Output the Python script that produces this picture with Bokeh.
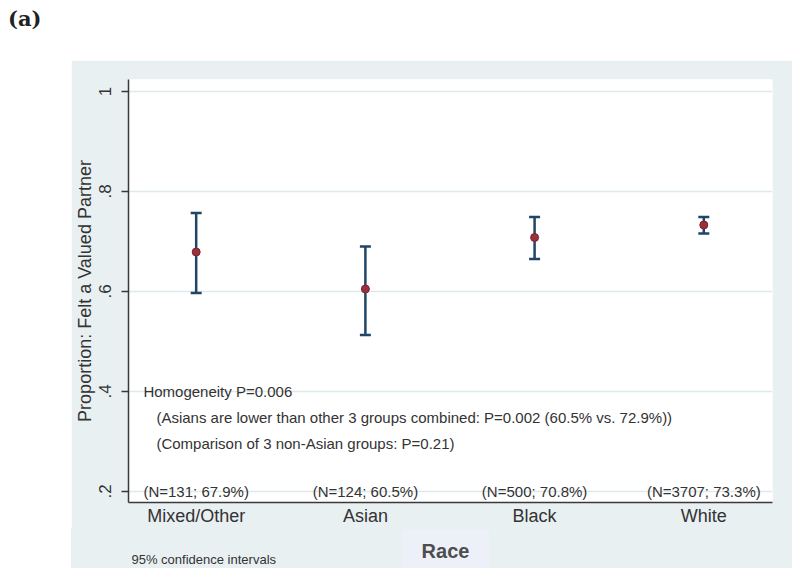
from bokeh.plotting import figure
from bokeh.models import (Range1d, FixedTicker, Whisker, TeeHead, ColumnDataSource,
                          Div, Spacer)
from bokeh.layouts import column, row
from bokeh.core.properties import value
from bokeh.embed import file_html
from bokeh.resources import INLINE

# ---------------- data ----------------
categories = ["Mixed/Other", "Asian", "Black", "White"]
positions = [1, 2, 3, 4]
proportion = [0.679, 0.605, 0.708, 0.733]
ci_lower = [0.597, 0.513, 0.665, 0.716]
ci_upper = [0.757, 0.690, 0.749, 0.749]
n_labels = ["(N=131; 67.9%)", "(N=124; 60.5%)", "(N=500; 70.8%)", "(N=3707; 73.3%)"]
y_ticks = [0.2, 0.4, 0.6, 0.8, 1.0]
y_tick_labels = [".2", ".4", ".6", ".8", "1"]
notes = ["Homogeneity P=0.006",
         "(Asians are lower than other 3 groups combined: P=0.002 (60.5% vs. 72.9%))",
         "(Comparison of 3 non-Asian groups: P=0.21)"]
y_title = "Proportion: Felt a Valued Partner"
x_title = "Race"
caption = "95% confidence intervals"
panel_label = "(a)"

# ---------------- styles ----------------
FONT = "Liberation Sans"
PANEL = "#e9f0f2"
GRID = "#dfe9ec"
NAVY = "#1f4668"
MAROON = "#9b2f3c"
AXIS = "#3a3a3a"
TXT = "#333333"

# layout positions (data units of the main plot)
notes_x = [0.688, 0.765, 0.765]
notes_y = [0.40, 0.348, 0.296]
n_label_y = 0.2

src = ColumnDataSource(dict(x=positions, p=proportion, lo=ci_lower, hi=ci_upper, n=n_labels))
notes_src = ColumnDataSource(dict(x=notes_x, y=notes_y, t=notes))

W = 721
p = figure(width=W, height=468, output_backend="svg", toolbar_location=None,
           x_range=Range1d(0.6, 4.406), y_range=Range1d(0.178, 1.024),
           min_border_left=54, min_border_right=20, min_border_top=19, min_border_bottom=25,
           background_fill_color="white", border_fill_color=PANEL, outline_line_color=None)

p.xgrid.grid_line_color = None
p.ygrid.grid_line_color = GRID
p.ygrid.grid_line_width = 1.5
p.yaxis.ticker = FixedTicker(ticks=y_ticks)
p.xaxis.ticker = FixedTicker(ticks=positions)
p.yaxis.major_label_overrides = {t: l for t, l in zip(y_ticks, y_tick_labels)}
p.xaxis.major_label_overrides = {x: c for x, c in zip(positions, categories)}

for ax in (p.xaxis[0], p.yaxis[0]):
    ax.axis_line_color = AXIS
    ax.axis_line_width = 1.5
    ax.minor_tick_line_color = None
    ax.major_label_text_font = FONT
    ax.major_label_text_color = TXT
    ax.axis_label_text_font = FONT
    ax.axis_label_text_color = TXT
    ax.axis_label_text_font_style = "normal"

p.yaxis.major_tick_out = 7
p.yaxis.major_tick_in = 0
p.yaxis.major_tick_line_color = AXIS
p.yaxis.major_tick_line_width = 1.5
p.yaxis.major_label_orientation = "vertical"
p.yaxis.major_label_text_font_size = "17px"
p.yaxis.major_label_standoff = 11
p.yaxis.axis_label = y_title
p.yaxis.axis_label_text_font_size = "18px"
p.yaxis.axis_label_standoff = 1

p.xaxis.major_tick_line_color = None
p.xaxis.major_tick_out = 0
p.xaxis.major_tick_in = 0
p.xaxis.major_label_standoff = 3
p.xaxis.major_label_text_font_size = "18px"

# error bars and point estimates
p.add_layout(Whisker(source=src, base="x", upper="hi", lower="lo", dimension="height",
                     line_color=NAVY, line_width=2.5,
                     upper_head=TeeHead(size=11, line_color=NAVY, line_width=2.5),
                     lower_head=TeeHead(size=11, line_color=NAVY, line_width=2.5)))
p.scatter(x="x", y="p", source=src, marker="circle", size=8,
          fill_color=MAROON, line_color="#7a2430", line_width=1)

# N labels
p.text(x="x", y=n_label_y, text="n", source=src, text_font=value(FONT),
       text_font_size="15px", text_align="center", text_baseline="middle", text_color=TXT)
# test notes
p.text(x="x", y="y", text="t", source=notes_src, text_font=value(FONT),
       text_font_size="15px", text_align="left", text_baseline="middle", text_color=TXT)

# ---------------- bottom strip: x title box + caption ----------------
# its frame is aligned with the main frame; coordinates are page pixels
b = figure(width=W, height=40, output_backend="svg", toolbar_location=None,
           x_range=Range1d(125, 772), y_range=Range1d(568, 528),
           min_border=0, background_fill_color=PANEL, border_fill_color=PANEL,
           outline_line_color=None, styles={"background-color": PANEL})
b.axis.visible = False
b.grid.visible = False
b.quad(left=[400], right=[487], top=[529], bottom=[574], fill_color="#edf0f8", line_color=None)
b.text(x=[443.5], y=[550], text=[x_title], text_font=value(FONT), text_font_size="20px",
       text_font_style="bold", text_color="#4d4d4d", text_align="center",
       text_baseline="middle")
b.text(x=[128], y=[559], text=[caption], text_font=value(FONT), text_font_size="13px",
       text_color=TXT, text_align="left", text_baseline="middle")

title = Div(text='<div style="padding:7px 0 0 8px;font-family:\'DejaVu Serif\';'
                 'font-weight:bold;font-size:21px;color:#222;line-height:1.1;">'
                 + panel_label + '</div>',
            width=792, height=60, styles={"margin": "0", "padding": "0"})

layout = column(title, row(Spacer(width=71, height=508), column(p, b)))

with open("out.html", "w") as f:
    f.write(file_html(layout, INLINE))
